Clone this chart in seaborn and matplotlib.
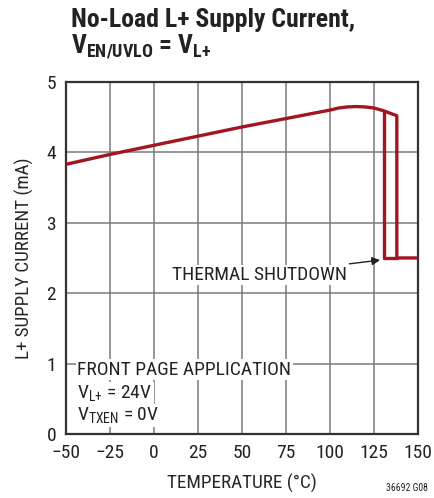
import pandas as pd
import matplotlib.pyplot as plt
import seaborn as sns

# data
temp_c = [-50, -25, 0, 25, 50, 75, 100, 105, 110, 115, 120, 125, 130.5, 138]
supply_ma = [3.83, 3.97, 4.10, 4.23, 4.36, 4.48, 4.60, 4.63, 4.645, 4.65, 4.645, 4.63, 4.59, 4.52]
shutdown_on_c = 138
shutdown_off_c = 130.5
shutdown_ma = 2.5
end_c = 150

x_ticks = [-50, -25, 0, 25, 50, 75, 100, 125, 150]
y_ticks = [0, 1, 2, 3, 4, 5]

# heating branch trips at 138C, cooling branch recovers at 130.5C
heat = pd.DataFrame({'temp': temp_c + [shutdown_on_c, end_c],
                     'ma': supply_ma + [shutdown_ma, shutdown_ma],
                     'branch': 'heat'})
cool = pd.DataFrame({'temp': [shutdown_off_c, shutdown_off_c, shutdown_on_c],
                     'ma': [supply_ma[temp_c.index(shutdown_off_c)], shutdown_ma, shutdown_ma],
                     'branch': 'cool'})
df = pd.concat([heat, cool], ignore_index=True)

sns.set_style('white')
plt.rcParams['font.family'] = ['Roboto Condensed', 'Liberation Sans', 'DejaVu Sans']
plt.rcParams['mathtext.fontset'] = 'custom'
plt.rcParams['mathtext.rm'] = 'Roboto Condensed'
plt.rcParams['mathtext.bf'] = 'Roboto Condensed:bold'
plt.rcParams['text.color'] = '#222222'

red = '#a3161f'

fig = plt.figure(figsize=(4.34, 4.98), dpi=100)
ax = fig.add_axes([0.152, 0.1285, 0.811, 0.707])

sns.lineplot(data=df, x='temp', y='ma', units='branch', estimator=None, sort=False,
             color=red, linewidth=2.4, ax=ax, zorder=3)

ax.set_xlim(-50, 150)
ax.set_ylim(0, 5)
ax.set_xticks(x_ticks)
ax.set_yticks(y_ticks)
ax.grid(True, color='#7a7a7a', linewidth=1.1)
ax.set_axisbelow(True)
for s in ax.spines.values():
    s.set_color('#333333')
    s.set_linewidth(1.6)
ax.tick_params(length=0, labelsize=14, pad=7, labelcolor='#222222')

ax.set_xlabel('TEMPERATURE (°C)', fontsize=13.8, labelpad=9)
ax.set_ylabel('L+ SUPPLY CURRENT (mA)', fontsize=13.7, labelpad=9)

box = dict(facecolor='white', edgecolor='none', pad=1)
ax.text(-43.5, 0.915, 'FRONT PAGE APPLICATION', fontsize=14, va='center', bbox=box, zorder=4)
ax.text(-43.5, 0.57, 'V$_{\\mathrm{L{+}}}$ = 24V', fontsize=14, va='center', bbox=box, zorder=4)
ax.text(-43.5, 0.26, 'V$_{\\mathrm{TXEN}}$ = 0V', fontsize=14, va='center', bbox=box, zorder=4)

ax.annotate('THERMAL SHUTDOWN', xy=(128.5, 2.47), xytext=(109.5, 2.26),
            fontsize=14, ha='right', va='center', bbox=box, zorder=4,
            arrowprops=dict(arrowstyle='-|>', color='#222222', lw=1, mutation_scale=12,
                            shrinkA=4, shrinkB=0))

fig.text(0.163, 0.96, 'No-Load L+ Supply Current,', fontsize=18.5, fontweight='bold', va='center')
fig.text(0.163, 0.905, 'V$_{\\mathbf{EN/UVLO}}$ = V$_{\\mathbf{L{+}}}$', fontsize=18.5,
         fontweight='bold', va='center')
fig.text(0.986, 0.01, '36692 G08', fontsize=7, ha='right', va='bottom')

fig.savefig('out.png', dpi=100)
